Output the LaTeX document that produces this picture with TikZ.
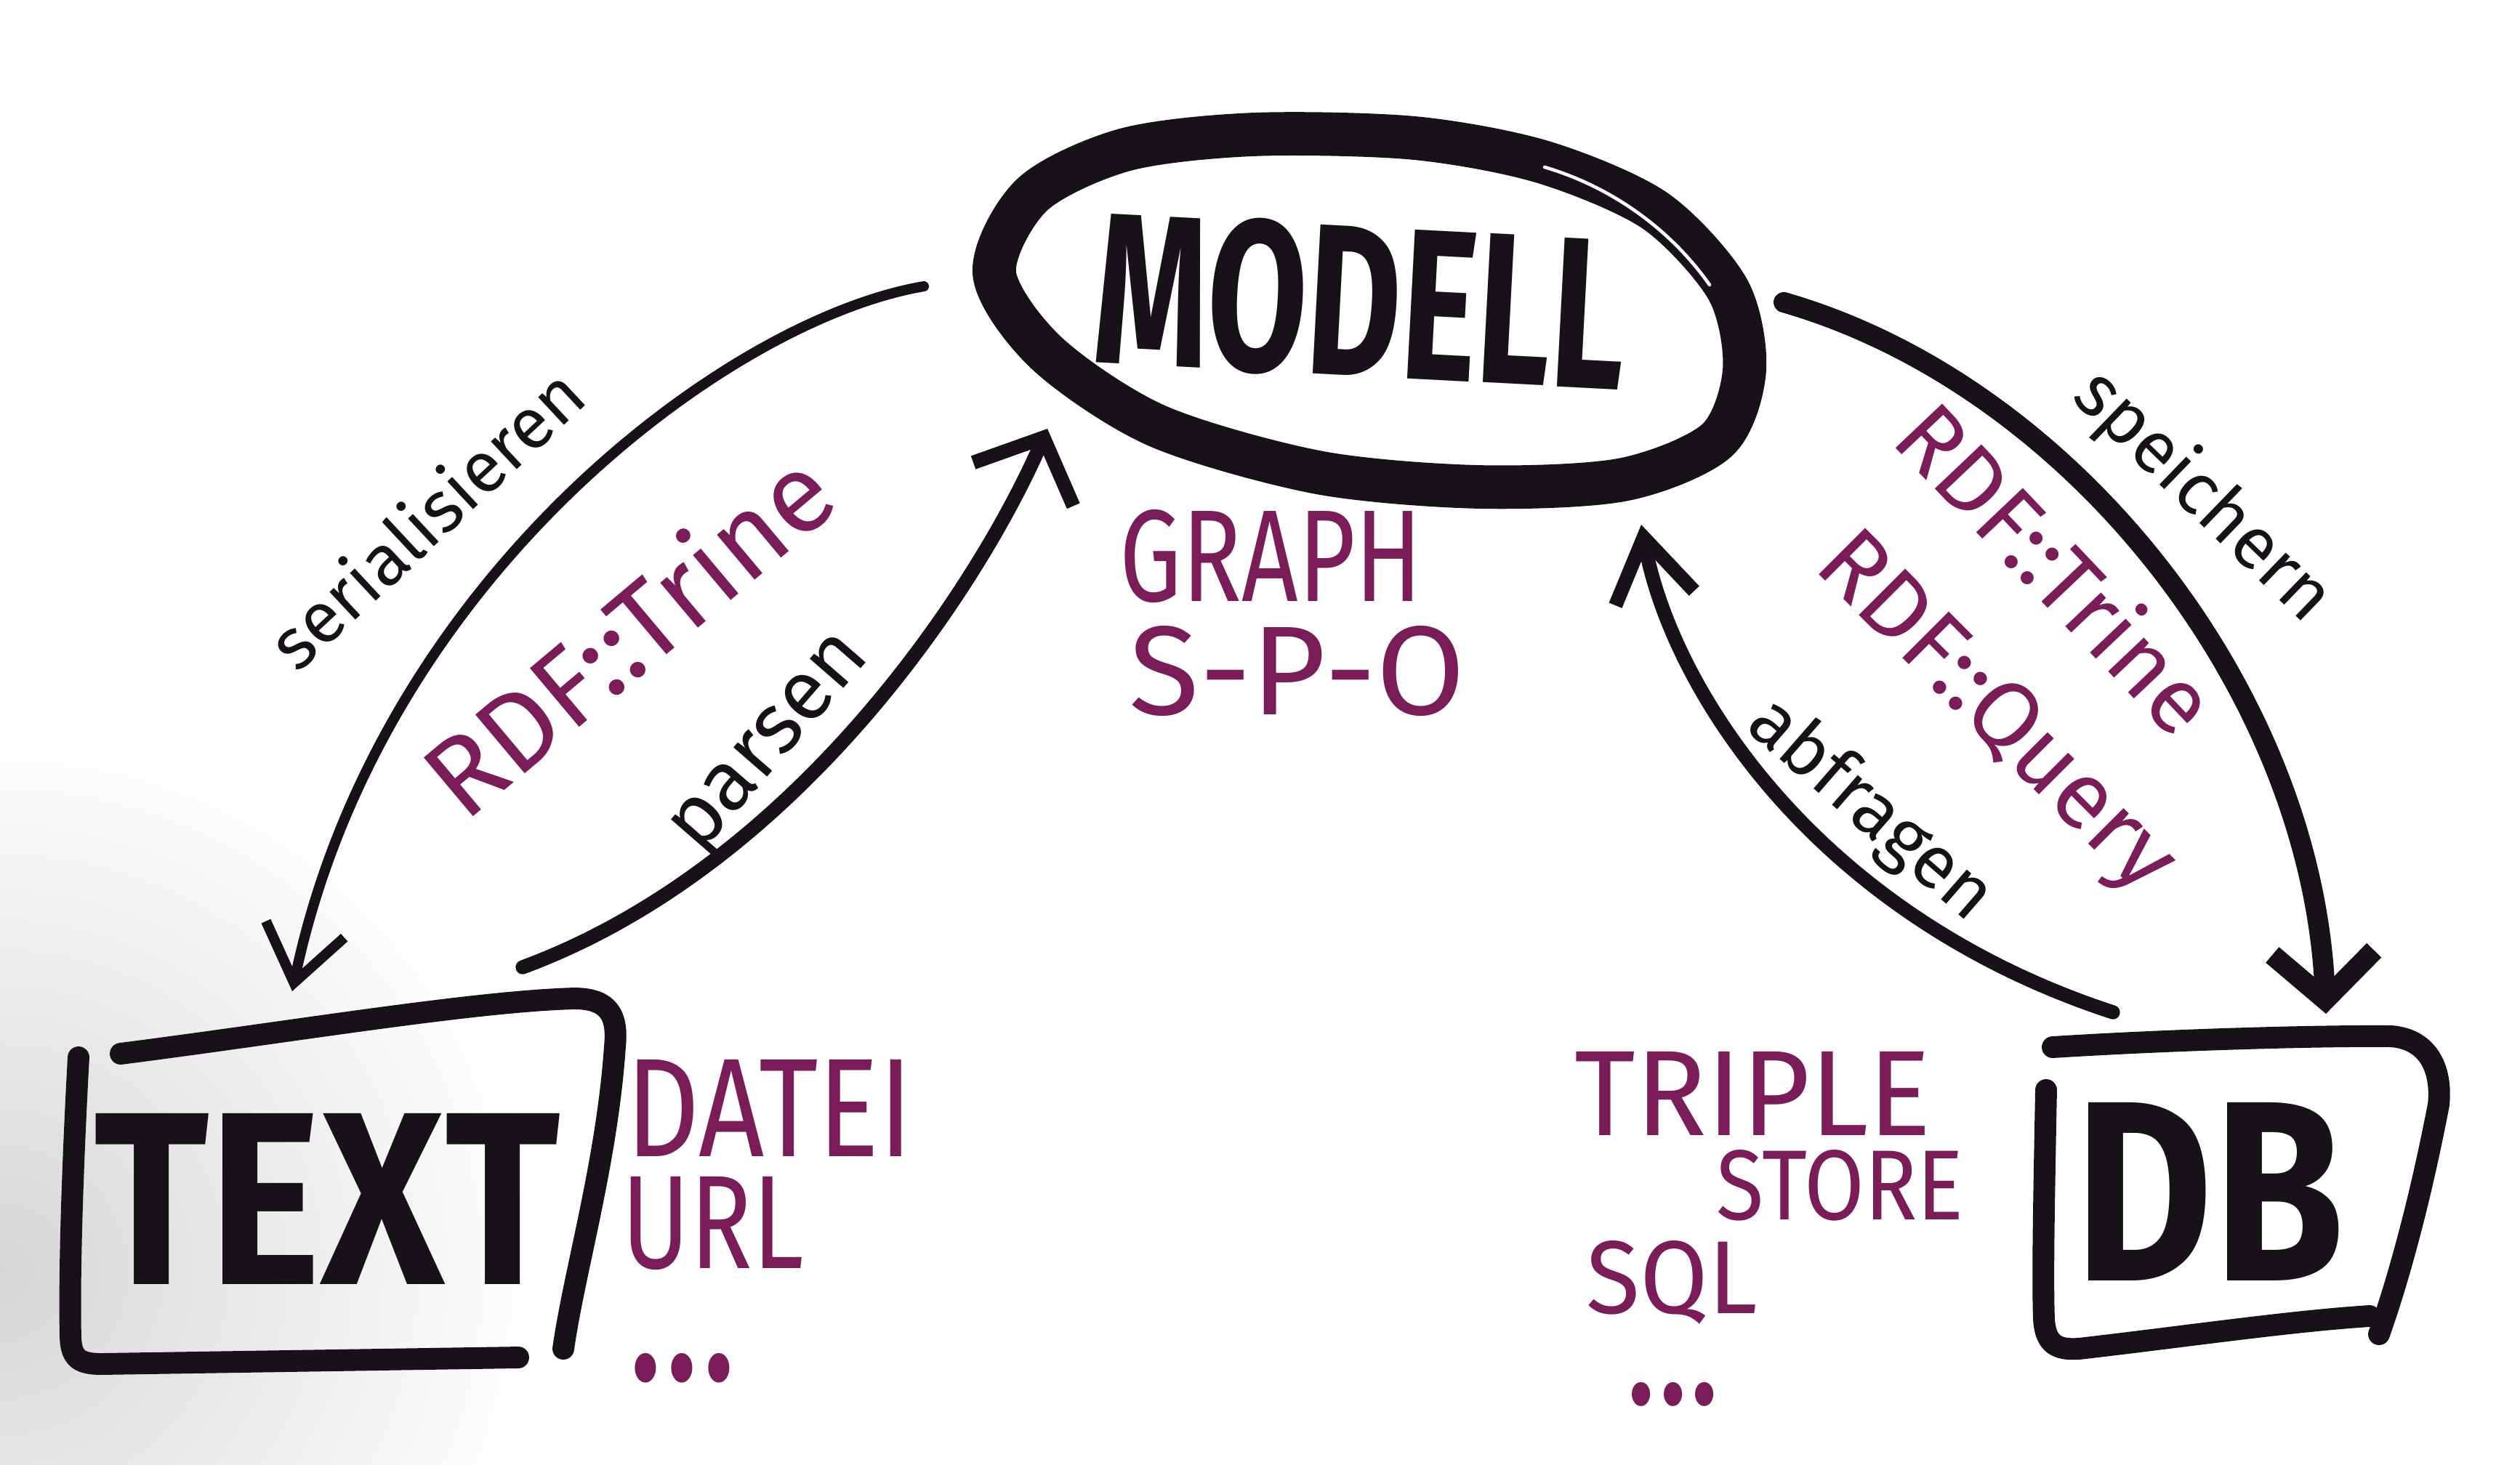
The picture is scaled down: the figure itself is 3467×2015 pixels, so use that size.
\documentclass[tikz,border=0pt]{standalone}
\usepackage{fontspec}
\setmainfont{Fira Sans}
\usepackage{graphicx}
\usetikzlibrary{arrows.meta}
\definecolor{ink}{RGB}{22,18,24}
\definecolor{plum}{RGB}{122,28,88}
\begin{document}
\begin{tikzpicture}[x=0.01cm,y=-0.01cm,
  stroke/.style={draw=ink,line cap=round,line join=round},
  capword/.style={text=ink,inner sep=0pt,font=\bfseries},
  plumword/.style={text=plum,inner sep=0pt},
  handword/.style={text=ink,inner sep=0pt},
  flow/.style={stroke,line width=#1},
  boxline/.style={stroke,line width=8.5pt},
]
\useasboundingbox (0,0) rectangle (3467,2015);
\fill[white] (0,0) rectangle (3467,2015);
\shade[inner color=black!16, outer color=white] (0,1750) circle (750);

% MODELL
\node[capword,rotate=-3] (modell) at (1872,415) {\resizebox{7.3cm}{2.1cm}{MODELL}};
\draw[stroke,line width=17pt] plot[smooth cycle] coordinates {(1725,185) (1946,190) (2123,223) (2277,290) (2377,398) (2400,509) (2362,606) (2233,660) (2034,670) (1813,650) (1592,586) (1440,486) (1368,376) (1420,268) (1548,206)};
\draw[white,line width=1.3pt,line cap=round] (2125,230) .. controls (2220,258) and (2300,318) .. (2352,392);

% TEXT box
\node[capword] (textword) at (450,1650) {\resizebox{6.4cm}{2.35cm}{TEXT}};
\draw[boxline] (166,1450) .. controls (400,1420) and (650,1378) .. (790,1374) .. controls (840,1374) and (850,1400) .. (846,1440) .. controls (835,1600) and (790,1750) .. (775,1856);
\draw[boxline] (108,1455) .. controls (100,1600) and (95,1750) .. (97,1840) .. controls (98,1870) and (110,1877) .. (140,1877) -- (713,1868);

% DB box
\node[capword] (dbword) at (3040,1640) {\resizebox{3.7cm}{2.45cm}{DB}};
\draw[boxline] (2824,1441) .. controls (3000,1430) and (3200,1425) .. (3290,1426) .. controls (3340,1430) and (3360,1470) .. (3355,1520) .. controls (3330,1650) and (3300,1760) .. (3273,1836);
\draw[boxline] (2815,1500) .. controls (2812,1650) and (2810,1760) .. (2812,1815) .. controls (2814,1850) and (2830,1858) .. (2860,1856) .. controls (3000,1840) and (3150,1818) .. (3260,1811);

% connector ends
\coordinate (serA) at (1271,394); \coordinate (serB) at (402,1364);
\coordinate (parA) at (719,1331); \coordinate (parB) at (1441,590);
\coordinate (speA) at (2454,416); \coordinate (speB) at (3200,1395);
\coordinate (abfA) at (2907,1393); \coordinate (abfB) at (2258,722);

\draw[flow=4pt, -{Straight Barb[length=0.75cm,width=1.1cm]}] (serA) .. controls (1000,440) and (520,800) .. (serB);
\draw[flow=5.5pt, -{Straight Barb[length=0.7cm,width=1.5cm]}] (parA) .. controls (1100,1190) and (1350,800) .. (parB);
\draw[flow=8pt, -{Straight Barb[length=0.65cm,width=1.4cm]}] (speA) .. controls (2850,530) and (3180,950) .. (speB);
\draw[flow=5.5pt, -{Straight Barb[length=0.85cm,width=1.1cm]}] (abfA) .. controls (2500,1260) and (2300,950) .. (abfB);

% arrow labels
\node[handword,rotate=43] (lser) at (585,712) {\resizebox{5.5cm}{!}{serialisieren}};
\node[plumword,rotate=40] (ltrine1) at (862,870) {\resizebox{6.8cm}{!}{RDF::Trine}};
\node[handword,rotate=49] (lpar) at (1066,1028) {\resizebox{3.6cm}{!}{parsen}};
\node[handword,rotate=-44] (lspe) at (3030,684) {\resizebox{4.5cm}{!}{speichern}};
\node[plumword,rotate=-46.5] (ltrine2) at (2832,780) {\resizebox{5.7cm}{!}{RDF::Trine}};
\node[plumword,rotate=-45] (lquery) at (2742,985) {\resizebox{6.4cm}{!}{RDF::Query}};
\node[handword,rotate=-41] (labf) at (2572,1116) {\resizebox{4.1cm}{!}{abfragen}};

% purple notes
\node[plumword] (lgraph) at (1749,766) {\resizebox{4.16cm}{1.26cm}{GRAPH}};
\node[plumword] (lspo) at (1785,923) {\resizebox{4.62cm}{1.22cm}{S-P-O}};
\node[plumword] (ldatei) at (1059,1525) {\resizebox{3.94cm}{1.33cm}{DATEI}};
\node[plumword] (lurl) at (981,1684) {\resizebox{2.5cm}{1.26cm}{URL}};
\node[plumword] (ldots1) at (939,1883) {\resizebox{1.5cm}{0.37cm}{...}};
\node[plumword] (ltriple) at (2412,1505) {\resizebox{4.9cm}{1.15cm}{TRIPLE}};
\node[plumword] (lstore) at (2532,1631) {\resizebox{3.4cm}{0.96cm}{STORE}};
\node[plumword] (lsql) at (2300,1765) {\resizebox{2.35cm}{1.0cm}{SQL}};
\node[plumword] (ldots2) at (2302,1919) {\resizebox{1.3cm}{0.3cm}{...}};
\end{tikzpicture}
\end{document}
